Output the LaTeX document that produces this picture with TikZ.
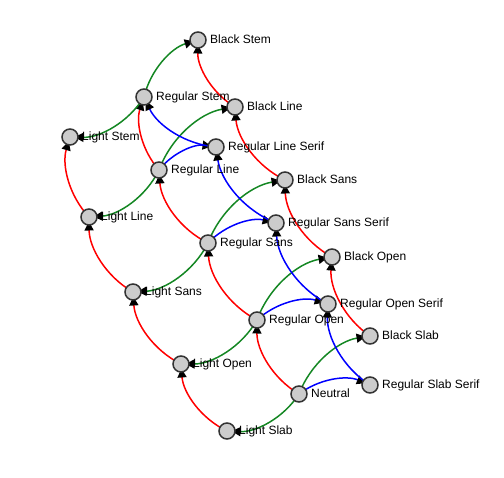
\documentclass[tikz,border=0pt]{standalone}
\usepackage{fontspec}
\setmainfont{Liberation Sans}
\usetikzlibrary{arrows.meta}
\pgfdeclarelayer{bg}
\pgfsetlayers{bg,main}
\definecolor{nodefill}{HTML}{CCCCCC}
\definecolor{nodeline}{HTML}{333333}
\definecolor{ered}{HTML}{FF0000}
\definecolor{egreen}{RGB}{20,135,35}
\definecolor{eblue}{HTML}{0000FF}
\newcommand\fnode[4]{%
  \node[dot] (#1) at (#2,#3) {};
  \node[lbl] (#1t) at (#2+12,#3+4) {#4};}
\tikzset{
  dot/.style={circle, draw=nodeline, fill=nodefill, line width=1.5pt, minimum size=16pt, inner sep=0pt},
  lbl/.style={anchor=base west, inner sep=0pt, font=\fontsize{12}{14}\selectfont},
  edge/.style={line width=1.5pt, shorten >=4.5pt, -{Triangle[length=9pt,width=9pt,black]}, bend left=30, looseness=0.91},
  r/.style={edge, ered},
  g/.style={edge, egreen},
  b/.style={edge, eblue},
}
\begin{document}
\begin{tikzpicture}[x=1pt,y=-1pt]
\useasboundingbox (0,0) rectangle (504,478);
\fnode{BS}{198}{40}{Black Stem}
\fnode{RS}{144}{97}{Regular Stem}
\fnode{BL}{235}{107}{Black Line}
\fnode{LS}{70}{137}{Light Stem}
\fnode{RLS}{216}{147}{Regular Line Serif}
\fnode{RL}{159}{170}{Regular Line}
\fnode{BSa}{285}{180}{Black Sans}
\fnode{LL}{89}{217}{Light Line}
\fnode{RSS}{276}{223}{Regular Sans Serif}
\fnode{RSa}{208}{243}{Regular Sans}
\fnode{BO}{332}{257}{Black Open}
\fnode{LSa}{133}{292}{Light Sans}
\fnode{ROS}{328}{304}{Regular Open Serif}
\fnode{RO}{257}{320}{Regular Open}
\fnode{BSl}{370}{336}{Black Slab}
\fnode{LO}{181}{364}{Light Open}
\fnode{N}{299}{394}{Neutral}
\fnode{RSlS}{370}{385}{Regular Slab Serif}
\fnode{LSl}{227}{431}{Light Slab}
\begin{pgfonlayer}{bg}
% red
\draw[r] (LSl.center) to (LO.center);
\draw[r] (LO.center) to (LSa.center);
\draw[r] (LSa.center) to (LL.center);
\draw[r] (LL.center) to (LS.center);
\draw[r] (N.center) to (RO.center);
\draw[r] (RO.center) to (RSa.center);
\draw[r] (RSa.center) to (RL.center);
\draw[r] (RL.center) to (RS.center);
\draw[r] (BSl.center) to (BO.center);
\draw[r] (BO.center) to (BSa.center);
\draw[r] (BSa.center) to (BL.center);
\draw[r] (BL.center) to (BS.center);
% green
\draw[g] (N.center) to (LSl.center);
\draw[g] (RO.center) to (LO.center);
\draw[g] (RSa.center) to (LSa.center);
\draw[g] (RL.center) to (LL.center);
\draw[g] (RS.center) to (LS.center);
\draw[g] (N.center) to (BSl.center);
\draw[g] (RO.center) to (BO.center);
\draw[g] (RSa.center) to (BSa.center);
\draw[g] (RL.center) to (BL.center);
\draw[g] (RS.center) to (BS.center);
% blue
\draw[b] (N.center) to (RSlS.center);
\draw[b] (RO.center) to (ROS.center);
\draw[b] (RSa.center) to (RSS.center);
\draw[b] (RL.center) to (RLS.center);
\draw[b] (RSlS.center) to (ROS.center);
\draw[b] (ROS.center) to (RSS.center);
\draw[b] (RSS.center) to (RLS.center);
\draw[b] (RLS.center) to (RS.center);
\end{pgfonlayer}
\end{tikzpicture}
\end{document}
